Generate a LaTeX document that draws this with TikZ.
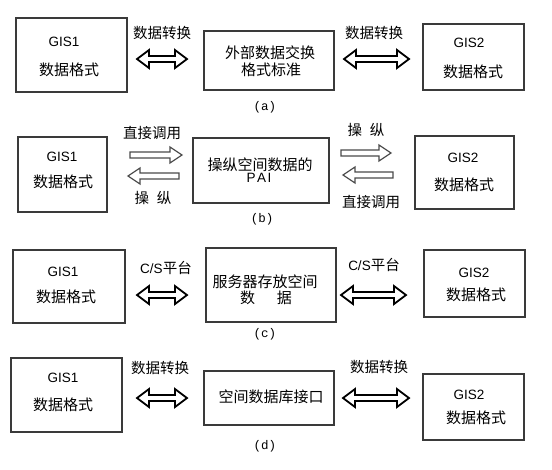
\documentclass[tikz,border=0pt]{standalone}
\usepackage{fontspec}
\setmainfont{Liberation Sans}
\newfontfamily\cjk{Noto Sans CJK SC}
\newfontfamily\capfont{Liberation Mono}
\definecolor{boxgray}{HTML}{3A3A3A}
\definecolor{hollowgray}{HTML}{4A4A4A}
\begin{document}
\begin{tikzpicture}[x=1pt,y=-1pt,
  box/.style={draw=boxgray, line width=1.4pt, inner sep=0pt},
  lat/.style={inner sep=0pt, font=\fontsize{13.5}{15}\selectfont},
  zh/.style={inner sep=0pt, font=\fontsize{15}{16}\selectfont\cjk},
  zl/.style={inner sep=0pt, font=\fontsize{14.5}{16}\selectfont\cjk},
  captxt/.style={inner sep=0pt, font=\fontsize{12.5}{14}\selectfont\capfont},
  dblarrow/.pic={\draw[line width=1.8pt, line join=miter, fill=white]
     ({-#1},0) -- ({-#1+12},-9) -- ({-#1+12},-3) -- ({#1-12},-3) -- ({#1-12},-9)
     -- ({#1},0) -- ({#1-12},9) -- ({#1-12},3) -- ({-#1+12},3) -- ({-#1+12},9) -- cycle;},
  hollowarrow/.pic={\draw[draw=hollowgray, line width=1.2pt, line join=miter, fill=white]
     (0,-3) -- ({#1-12},-3) -- ({#1-12},-8) -- ({#1},0) -- ({#1-12},8) -- ({#1-12},3) -- (0,3) -- cycle;}
]
\useasboundingbox (0,0) rectangle (552,469);
\fill[white] (0,0) rectangle (552,469);

% ---------- row (a) ----------
\node[box, minimum width=111pt, minimum height=74pt] (a1) at (71.5,55) {};
\node[lat] (a1g) at (64,42) {GIS1};
\node[zh] (a1f) at (69,70) {数据格式};
\node[box, minimum width=130pt, minimum height=59pt] (a2) at (269,60.5) {};
\node[zh] (a2t1) at (270,53) {外部数据交换};
\node[zh] (a2t2) at (271,70) {格式标准};
\node[box, minimum width=101pt, minimum height=66pt] (a3) at (473.5,57) {};
\node[lat] (a3g) at (469,43) {GIS2};
\node[zh] (a3f) at (473,72) {数据格式};
\pic at (162,59) {dblarrow=25};
\pic at (376.5,59) {dblarrow=32.5};
\node[zl] (a4) at (162,33) {数据转换};
\node[zl] (a5) at (374,33) {数据转换};
\node[captxt] (acap) at (265,107) {(a)};

% ---------- row (b) ----------
\node[box, minimum width=89pt, minimum height=75pt] (b1) at (62.5,174.5) {};
\node[lat] (b1g) at (62,157) {GIS1};
\node[zh] (b1f) at (63,182) {数据格式};
\node[box, minimum width=136pt, minimum height=65pt] (b2) at (261,170.5) {};
\node[zh] (b2t1) at (260,165) {操纵空间数据的};
\node[lat] (b2t2) at (259,178) {P\hspace{1.5pt}A\hspace{1.5pt}I};
\node[box, minimum width=99pt, minimum height=73pt] (b3) at (464.5,172.5) {};
\node[lat] (b3g) at (463,158) {GIS2};
\node[zh] (b3f) at (464,185) {数据格式};
\pic at (130,155) {hollowarrow=52};
\pic[rotate=180] at (179,176) {hollowarrow=51};
\pic at (341,153) {hollowarrow=50};
\pic[rotate=180] at (393,175) {hollowarrow=50};
\node[zl] (b4) at (152,133) {直接调用};
\node[zl] (b5) at (153,198) {操\hspace{8pt}纵};
\node[zl] (b6) at (366,130) {操\hspace{8pt}纵};
\node[zl] (b7) at (371,202) {直接调用};
\node[captxt] (bcap) at (262,219) {(b)};

% ---------- row (c) ----------
\node[box, minimum width=112pt, minimum height=73pt] (c1) at (69,286.5) {};
\node[lat] (c1g) at (63,272) {GIS1};
\node[zh] (c1f) at (66,297) {数据格式};
\node[box, minimum width=130pt, minimum height=74pt] (c2) at (271,285) {};
\node[zh] (c2t1) at (265,282) {服务器存放空间};
\node[zh] (c2t2) at (266,298) {数\hspace{22pt}据};
\node[box, minimum width=101pt, minimum height=67pt] (c3) at (474.5,283.5) {};
\node[lat] (c3g) at (474,273) {GIS2};
\node[zh] (c3f) at (476,295) {数据格式};
\pic at (162,295) {dblarrow=25};
\pic at (373.5,295) {dblarrow=32.5};
\node[inner sep=0pt] (c4) at (166,268) {\fontsize{13.5}{15}\selectfont C/S{\fontsize{14.5}{16}\selectfont\cjk 平台}};
\node[inner sep=0pt] (c5) at (374,265) {\fontsize{13.5}{15}\selectfont C/S{\fontsize{14.5}{16}\selectfont\cjk 平台}};
\node[captxt] (ccap) at (265,334) {(c)};

% ---------- row (d) ----------
\node[box, minimum width=111pt, minimum height=74pt] (d1) at (66.5,395) {};
\node[lat] (d1g) at (63,378) {GIS1};
\node[zh] (d1f) at (63,405) {数据格式};
\node[box, minimum width=130pt, minimum height=54pt] (d2) at (269,398) {};
\node[zh] (d2t) at (271,397) {空间数据库接口};
\node[box, minimum width=101pt, minimum height=66pt] (d3) at (473.5,407) {};
\node[lat] (d3g) at (469,395) {GIS2};
\node[zh] (d3f) at (476,418) {数据格式};
\pic at (162,398) {dblarrow=25};
\pic at (376,398) {dblarrow=33};
\node[zl] (d4) at (160,368) {数据转换};
\node[zl] (d5) at (379,367) {数据转换};
\node[captxt] (dcap) at (265,446) {(d)};
\end{tikzpicture}
\end{document}
